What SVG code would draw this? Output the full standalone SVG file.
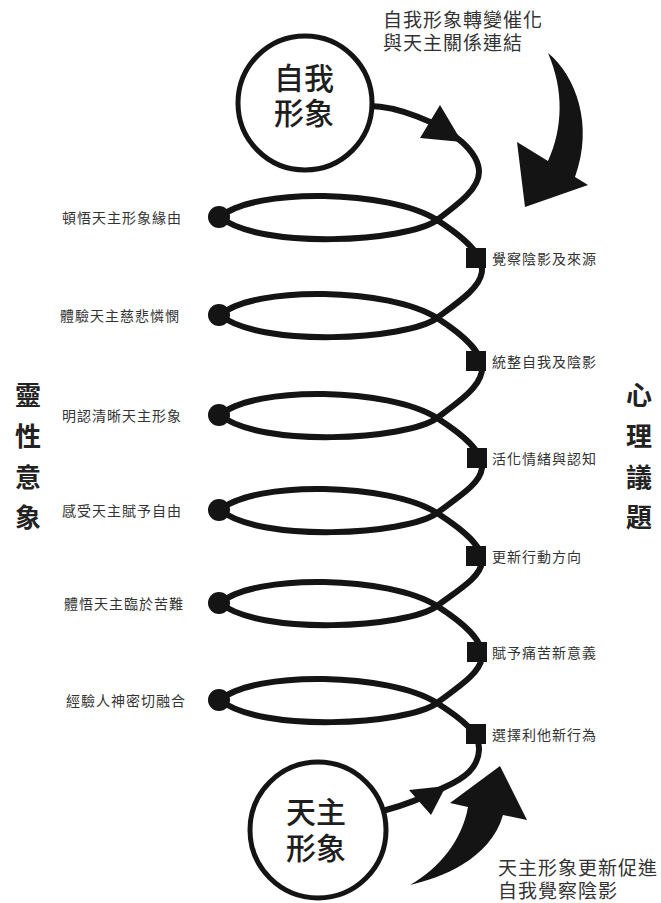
<svg xmlns="http://www.w3.org/2000/svg" width="661" height="903" viewBox="0 0 661 903">
<style>
.spiral{fill:none;stroke:#141414;stroke-width:6;stroke-linecap:round;stroke-linejoin:round}
.ring{fill:#fff;stroke:#141414;stroke-width:5}
.blk{fill:#141414}
.ctext{font-family:"Noto Sans CJK TC","Noto Sans CJK SC",sans-serif;font-size:30px;font-weight:500;fill:#1e1e1e;text-anchor:middle}
.lbl{font-family:"Noto Sans CJK TC","Noto Sans CJK SC",sans-serif;font-size:14px;fill:#333;letter-spacing:1px;dominant-baseline:central}
.note{font-family:"Noto Sans CJK TC","Noto Sans CJK SC",sans-serif;font-size:19px;fill:#333;letter-spacing:1px}
.vert{font-family:"Noto Sans CJK TC","Noto Sans CJK SC",sans-serif;font-size:26px;font-weight:700;fill:#222;text-anchor:middle;dominant-baseline:central}
</style>
<rect width="661" height="903" fill="#fff"/>

<g id="connectors">
  <path class="spiral" d="M370,106 C395,106 440,122 462,142
    C474,153 479,162 479,172 C479,188 461,202 437,220
    C407,242 260,250 220,217 C255,187 390,190 437,220
    C512,268 480,286 437,318
    C407,340 260,348 220,315 C255,285 390,288 437,318
    C512,366 480,386 437,418
    C407,440 260,448 220,415 C255,385 390,388 437,418
    C512,466 480,481 437,513
    C407,535 260,543 220,510 C255,480 390,483 437,513
    C512,561 480,574 437,606
    C407,628 260,636 220,603 C255,573 390,576 437,606
    C512,654 480,671 437,703
    C407,725 260,733 220,700 C255,670 390,673 437,703
    C462,719 480,733 479,750 C478,768 465,778 445,787 C425,797 405,805 386,810"/>
  <polygon class="blk" points="462,142 440,105 420,138"/>
  <polygon class="blk" points="446,786 409,790 431,815"/>
  <path id="arrow-top" class="blk" d="M548,53 C576,76 594,125 575,177 L588,185 L525,207 L517,142 L548,161 C563,128 564,90 548,53 Z"/>
  <path id="arrow-bottom" class="blk" d="M410,885 C440,878 490,860 503,815 L527,820 L500,766 L450,803 L468,807 C462,840 440,868 410,885 Z"/>
</g>

<g id="node-self-image">
  <circle class="ring" cx="305" cy="103" r="67"/>
  <text class="ctext" x="304" y="89"><tspan x="304">自我</tspan><tspan x="304" dy="35">形象</tspan></text>
</g>

<g id="node-god-image">
  <circle class="ring" cx="318" cy="830" r="68"/>
  <text class="ctext" x="316" y="823"><tspan x="316">天主</tspan><tspan x="316" dy="36">形象</tspan></text>
</g>

<g id="spiritual-1"><circle class="blk" cx="219" cy="217" r="11"/><text class="lbl" x="62" y="217">頓悟天主形象緣由</text></g>
<g id="spiritual-2"><circle class="blk" cx="219" cy="315" r="11"/><text class="lbl" x="60" y="315">體驗天主慈悲憐憫</text></g>
<g id="spiritual-3"><circle class="blk" cx="219" cy="415" r="11"/><text class="lbl" x="62" y="415">明認清晰天主形象</text></g>
<g id="spiritual-4"><circle class="blk" cx="219" cy="510" r="11"/><text class="lbl" x="62" y="510">感受天主賦予自由</text></g>
<g id="spiritual-5"><circle class="blk" cx="219" cy="603" r="11"/><text class="lbl" x="64" y="603">體悟天主臨於苦難</text></g>
<g id="spiritual-6"><circle class="blk" cx="219" cy="700" r="11"/><text class="lbl" x="66" y="700">經驗人神密切融合</text></g>

<g id="psych-1"><rect class="blk" x="466" y="248" width="20" height="20"/><text class="lbl" x="492" y="258">覺察陰影及來源</text></g>
<g id="psych-2"><rect class="blk" x="466" y="351" width="20" height="20"/><text class="lbl" x="492" y="361">統整自我及陰影</text></g>
<g id="psych-3"><rect class="blk" x="467" y="448" width="20" height="20"/><text class="lbl" x="492" y="458">活化情緒與認知</text></g>
<g id="psych-4"><rect class="blk" x="466" y="546" width="20" height="20"/><text class="lbl" x="492" y="556">更新行動方向</text></g>
<g id="psych-5"><rect class="blk" x="467" y="642" width="20" height="20"/><text class="lbl" x="492" y="652">賦予痛苦新意義</text></g>
<g id="psych-6"><rect class="blk" x="466" y="724" width="20" height="20"/><text class="lbl" x="492" y="734">選擇利他新行為</text></g>

<g id="title-left">
  <text class="vert" x="28" y="393">靈</text>
  <text class="vert" x="28" y="434">性</text>
  <text class="vert" x="28" y="475">意</text>
  <text class="vert" x="28" y="515">象</text>
</g>
<g id="title-right">
  <text class="vert" x="639" y="393">心</text>
  <text class="vert" x="639" y="434">理</text>
  <text class="vert" x="639" y="475">議</text>
  <text class="vert" x="639" y="515">題</text>
</g>

<g id="note-top">
  <text class="note" x="383" y="27"><tspan x="383">自我形象轉變催化</tspan><tspan x="383" dy="23">與天主關係連結</tspan></text>
</g>
<g id="note-bottom">
  <text class="note" x="498" y="875"><tspan x="498">天主形象更新促進</tspan><tspan x="498" dy="23">自我覺察陰影</tspan></text>
</g>
</svg>
